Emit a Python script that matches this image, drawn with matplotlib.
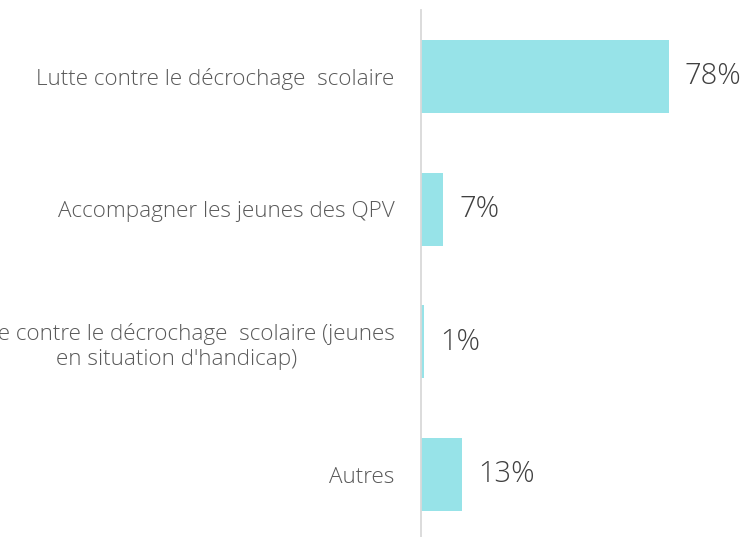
import matplotlib
matplotlib.use("Agg")
import matplotlib.pyplot as plt

categories = [
    "Lutte contre le décrochage  scolaire",
    "Accompagner les jeunes des QPV",
    "Lutte contre le décrochage  scolaire (jeunes\nen situation d'handicap)",
    "Autres",
]
values = [78, 7, 1, 13]
value_labels = ["78%", "7%", "1%", "13%"]

BAR_COLOR = "#97E3E8"
AXIS_COLOR = "#D9D9D9"
CAT_COLOR = "#595959"
VAL_COLOR = "#404040"

W, H, DPI = 746, 537, 100
fig = plt.figure(figsize=(W / DPI, H / DPI), dpi=DPI)

# axes anchored on the vertical baseline
left_px, right_px = 421, 421 + 317.6
top_px, bottom_px = 10, 537
ax = fig.add_axes([left_px / W, 1 - bottom_px / H,
                   (right_px - left_px) / W, (bottom_px - top_px) / H])

family = ["Open Sans", "DejaVu Sans"]
pos = list(range(len(categories)))
ax.barh(pos, values, height=0.55, color=BAR_COLOR, zorder=2)

ax.set_xlim(0, 100)
ax.set_ylim(3.47, -0.5)

for s in ["top", "right", "bottom"]:
    ax.spines[s].set_visible(False)
ax.spines["left"].set_color(AXIS_COLOR)
ax.spines["left"].set_linewidth(1.3)

ax.set_xticks([])
ax.set_yticks(pos)
ax.set_yticklabels(categories, fontsize=16.2, color=CAT_COLOR,
                   family=family, fontweight="light", multialignment="center",
                   linespacing=1.25)
ax.tick_params(axis="y", length=0, pad=19)

for p, v, lab in zip(pos, values, value_labels):
    ax.annotate(lab, xy=(v, p), xytext=(16, 0), textcoords="offset pixels",
                ha="left", va="center", fontsize=21, color=VAL_COLOR,
                family=family, fontweight="light")

fig.savefig("out.png", dpi=DPI)
